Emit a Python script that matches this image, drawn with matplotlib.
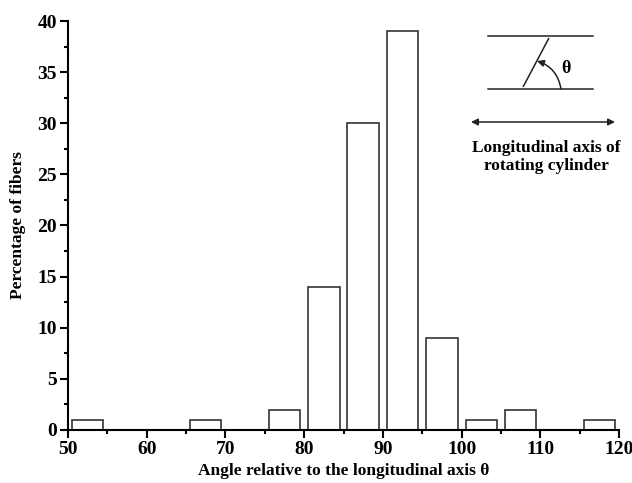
import matplotlib
matplotlib.use("Agg")
import matplotlib.pyplot as plt
from matplotlib.ticker import MultipleLocator

# bin centres (degrees) and percentage of fibers
angles = [52.5, 67.5, 77.5, 82.5, 87.5, 92.5, 97.5, 102.5, 107.5, 117.5]
percent = [1, 1, 2, 14, 30, 39, 9, 1, 2, 1]
xticks = [50, 60, 70, 80, 90, 100, 110, 120]
yticks = [0, 5, 10, 15, 20, 25, 30, 35, 40]

plt.rcParams['font.family'] = ['Liberation Serif', 'DejaVu Serif']
plt.rcParams['font.weight'] = 'bold'

W, H = 632, 483
fig = plt.figure(figsize=(W / 100, H / 100), dpi=100)
ax = fig.add_axes([68 / W, 1 - 430 / H, (619 - 68) / W, (430 - 21) / H])

ax.bar(angles, percent, width=4, facecolor='white', edgecolor='#333333', linewidth=1.2)

ax.set_xlim(50, 120)
ax.set_ylim(0, 40)
ax.set_xticks(xticks)
ax.set_yticks(yticks)
ax.xaxis.set_minor_locator(MultipleLocator(5))
ax.yaxis.set_minor_locator(MultipleLocator(2.5))
ax.spines['top'].set_visible(False)
ax.spines['right'].set_visible(False)
for s in ('left', 'bottom'):
    ax.spines[s].set_linewidth(1.5)
ax.tick_params(which='major', direction='out', length=6, width=1.5, labelsize=14, pad=2)
ax.tick_params(which='minor', direction='out', length=3, width=1.5)
for lab in ax.get_xticklabels() + ax.get_yticklabels():
    lab.set_fontweight('bold')

ax.set_xlabel('Angle relative to the longitudinal axis θ', fontsize=12.5, fontweight='bold', va='center')
ax.set_ylabel('Percentage of fibers', fontsize=12.5, fontweight='bold', va='center')
ax.xaxis.set_label_coords(0.5, (430 - 471) / 409)
ax.yaxis.set_label_coords((18 - 68) / 551, 0.5)

# inset sketch, in figure pixels (origin bottom-left)
def P(px, py):
    return (px, H - py)

fp = 'figure pixels'
for yy in (36, 89):
    ax.annotate('', xy=P(596, yy), xytext=P(485, yy), xycoords=fp, textcoords=fp,
                arrowprops=dict(arrowstyle='-', color='#222222', lw=1.1))
ax.annotate('', xy=P(550, 36), xytext=P(522, 89), xycoords=fp, textcoords=fp,
            arrowprops=dict(arrowstyle='-', color='#222222', lw=1.1))
ax.annotate('', xy=P(537, 61), xytext=P(561, 89), xycoords=fp, textcoords=fp,
            arrowprops=dict(arrowstyle='-|>', color='#222222', lw=1.1, mutation_scale=10,
                            shrinkA=0, shrinkB=0, connectionstyle='arc3,rad=0.3'))
fig.text(561 / W, 1 - 69 / H, 'θ', fontsize=13, fontweight='bold', ha='left', va='center')
ax.annotate('', xy=P(615, 122), xytext=P(471, 122), xycoords=fp, textcoords=fp,
            arrowprops=dict(arrowstyle='<|-|>', color='#222222', lw=1.1, mutation_scale=10,
                            shrinkA=0, shrinkB=0))
fig.text(546 / W, 1 - 157 / H, 'Longitudinal axis of\nrotating cylinder', fontsize=12.5,
         fontweight='bold', ha='center', va='center', linespacing=1.25)

fig.savefig('out.png', dpi=100)
